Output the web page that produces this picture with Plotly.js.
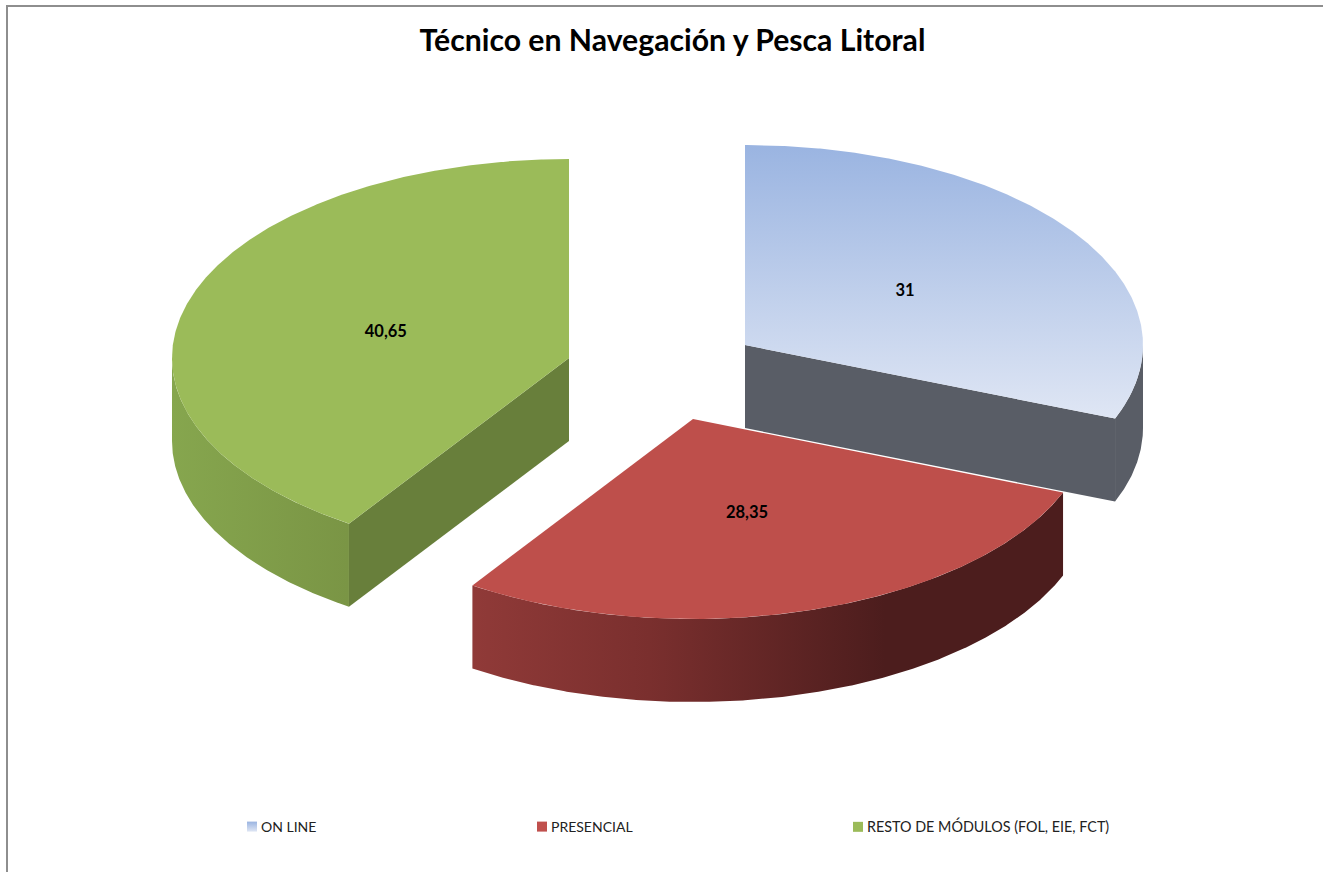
<!DOCTYPE html>
<html>
<head>
<meta charset="utf-8">
<script src="https://cdn.plot.ly/plotly-3.0.1.min.js"></script>
<style>html,body{margin:0;padding:0;background:#fff}#chart{width:1323px;height:872px}</style>
</head>
<body>
<div id="chart"></div>
<script>
// ---- data ----
const categories = ['ON LINE', 'PRESENCIAL', 'RESTO DE MÓDULOS (FOL, EIE, FCT)'];
const values = [31, 28.35, 40.65];
const chartTitle = 'Técnico en Navegación y Pesca Litoral';

// ---- projection of the tilted pie onto the picture axes ----
const FONT = 'Lato, Carlito, Calibri, sans-serif';
const centreX = [745, 693, 569];
const centreY = [345, 419, 358];
const radiusX = [398, 398, 397];
const radiusY = [200, 200, 199];
const depth = 83;
const labelFactorX = [0.486, 0.455, 0.482];
const labelFactorY = [0.47, 0.495, 0.43];
const legendX = [221, 511, 827];
const legendFontSize = [14, 14, 14.35];
const SYMBOL_SHIFT = 11;

const total = values.reduce((a, b) => a + b, 0);
const cum = [0];
values.forEach(v => cum.push(cum[cum.length - 1] + v));
const theta = v => v / total * 2 * Math.PI;
const px = (i, t) => centreX[i] + radiusX[i] * Math.sin(t);
const py = (i, t, drop) => centreY[i] - radiusY[i] * Math.cos(t) + (drop || 0);
function arc(i, a, b, drop) {
  const n = Math.max(2, Math.ceil(Math.abs(b - a) / 0.005));
  const xs = [], ys = [];
  for (let k = 0; k <= n; k++) {
    const t = a + (b - a) * k / n;
    xs.push(px(i, t)); ys.push(py(i, t, drop));
  }
  return [xs, ys];
}
function poly(xs, ys, style) {
  return Object.assign({
    type: 'scatter', mode: 'lines', x: xs, y: ys, fill: 'toself',
    line: {width: 0}, hoverinfo: 'skip', showlegend: false
  }, style);
}
function topFace(i, style) {
  const [xs, ys] = arc(i, theta(cum[i]), theta(cum[i + 1]));
  return poly([centreX[i], ...xs, centreX[i]], [centreY[i], ...ys, centreY[i]], style);
}
function rim(i, a, b, style) {
  const [x1, y1] = arc(i, a, b);
  const [x2, y2] = arc(i, b, a, depth);
  return poly([...x1, ...x2, x1[0]], [...y1, ...y2, y1[0]], style);
}
function cutFace(i, t, style) {
  const ex = px(i, t), ey = py(i, t);
  return poly(
    [centreX[i], ex, ex, centreX[i], centreX[i]],
    [centreY[i], ey, ey + depth, centreY[i] + depth, centreY[i]], style);
}
const hGrad = (start, stop, stops) => ({fillgradient: {type: 'horizontal', start, stop, colorscale: stops}, fillcolor: 'rgba(0,0,0,0)'});
const vGrad = (start, stop, stops) => ({fillgradient: {type: 'vertical', start, stop, colorscale: stops}, fillcolor: 'rgba(0,0,0,0)'});

const traces = [
  // green, farthest left
  rim(2, theta(cum[2]), 1.5 * Math.PI, hGrad(172, 348, [[0, '#86A64E'], [1, '#7A9545']])),
  cutFace(2, theta(cum[2]), {fillcolor: '#687F3B'}),
  topFace(2, {fillcolor: '#9BBB59'}),
  // blue
  rim(0, 0.5 * Math.PI, theta(cum[1]), {fillcolor: '#595D66'}),
  cutFace(0, theta(cum[1]), {fillcolor: '#595D66'}),
  topFace(0, vGrad(145, 418, [[0, '#9AB4E1'], [1, '#DFE6F4']])),
  // red, nearest
  rim(1, theta(cum[1]), theta(cum[2]), hGrad(472, 1062, [[0, '#903A38'], [0.3, '#7A2F2E'], [0.7, '#4C1D1D'], [1, '#4C1D1D']])),
  topFace(1, {fillcolor: '#BE4F4B'}),
  // value labels at mid-slice
  {
    type: 'scatter', mode: 'text', hoverinfo: 'skip', showlegend: false,
    x: values.map((v, i) => centreX[i] + radiusX[i] * labelFactorX[i] * Math.sin(theta(cum[i] + v / 2))),
    y: values.map((v, i) => centreY[i] - radiusY[i] * labelFactorY[i] * Math.cos(theta(cum[i] + v / 2))),
    text: values.map(v => String(v).replace('.', ',')),
    textposition: 'middle center',
    textfont: {family: FONT, size: 16.5, color: '#000', weight: 'bold'}
  },
  // legend entries
  ...categories.map((name, i) => ({
    type: 'scatter', mode: 'markers', name, x: [null], y: [null],
    legend: i === 0 ? 'legend' : 'legend' + (i + 1), showlegend: true, hoverinfo: 'skip',
    marker: Object.assign({symbol: 'square', size: 10, line: {width: 0}},
      [{color: '#9AB4E1', gradient: {type: 'vertical', color: '#DFE6F4'}}, {color: '#C0504D'}, {color: '#9BBB59'}][i])
  }))
];

const legendCfg = i => ({
  x: legendX[i] / 1323, xanchor: 'left', y: 45 / 872, yanchor: 'middle',
  orientation: 'h', bgcolor: 'rgba(0,0,0,0)', borderwidth: 0,
  font: {family: FONT, size: legendFontSize[i], color: '#222'}, itemclick: false, itemdoubleclick: false
});

const layout = {
  width: 1323, height: 872, margin: {l: 0, r: 0, t: 0, b: 0},
  paper_bgcolor: '#fff', plot_bgcolor: '#fff',
  title: {
    text: chartTitle, x: 672.5 / 1323, xanchor: 'center', y: 1 - 40 / 872, yanchor: 'middle',
    yref: 'container', xref: 'container',
    font: {family: FONT, size: 30.2, color: '#000', weight: 'bold'}
  },
  xaxis: {range: [0, 1323], visible: false, fixedrange: true},
  yaxis: {range: [872, 0], visible: false, fixedrange: true},
  legend: legendCfg(0), legend2: legendCfg(1), legend3: legendCfg(2),
  shapes: [
    {type: 'line', xref: 'paper', yref: 'paper', x0: 7 / 1323, x1: 7 / 1323, y0: 0, y1: 1 - 5 / 872, line: {color: '#8E8E8E', width: 2}},
    {type: 'line', xref: 'paper', yref: 'paper', x0: 6 / 1323, x1: 1, y0: 1 - 6 / 872, y1: 1 - 6 / 872, line: {color: '#8E8E8E', width: 2}}
  ],
  showlegend: true
};

Plotly.newPlot('chart', traces, layout, {displayModeBar: false, responsive: false}).then(gd => {
  gd.querySelectorAll('.legendsymbols').forEach(el => el.setAttribute('transform', 'translate(' + SYMBOL_SHIFT + ',0)'));
});
</script>
</body>
</html>
